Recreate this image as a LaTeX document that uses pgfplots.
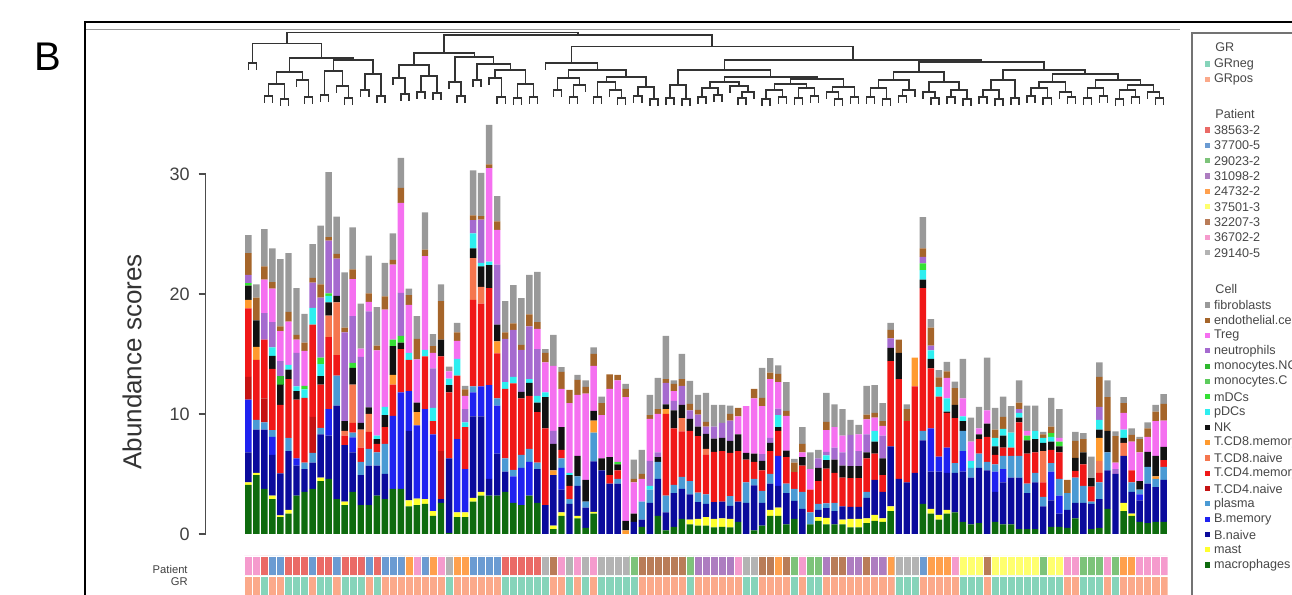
\documentclass[border=0pt]{standalone}
\usepackage{pgfplots}
\pgfplotsset{compat=1.18}
\usepackage{pgfplotstable}
\usepackage{fontspec}
\setmainfont{Liberation Sans}
% cell colours
\definecolor{cMac}{HTML}{0E6B0E}
\definecolor{cMast}{HTML}{FFFF2E}
\definecolor{cBn}{HTML}{0B0B9C}
\definecolor{cBm}{HTML}{1F22F0}
\definecolor{cPl}{HTML}{4A9AD4}
\definecolor{cCDfn}{HTML}{C51313}
\definecolor{cCDfm}{HTML}{F01818}
\definecolor{cCDen}{HTML}{F5764E}
\definecolor{cCDem}{HTML}{FF9A2E}
\definecolor{cNK}{HTML}{111111}
\definecolor{cPdc}{HTML}{2EEEF0}
\definecolor{cMdc}{HTML}{35E035}
\definecolor{cMoC}{HTML}{5CCB5C}
\definecolor{cMoN}{HTML}{2EB82E}
\definecolor{cNeu}{HTML}{A56ACF}
\definecolor{cTreg}{HTML}{F570F0}
\definecolor{cEndo}{HTML}{A5652A}
\definecolor{cFib}{HTML}{999999}
% patient colours
\definecolor{pRed}{HTML}{EA6A66}
\definecolor{pBlue}{HTML}{6B9BD2}
\definecolor{pGreen}{HTML}{7DC37A}
\definecolor{pPurple}{HTML}{AD7DC0}
\definecolor{pOrange}{HTML}{FFA04D}
\definecolor{pYellow}{HTML}{FFFF6E}
\definecolor{pBrown}{HTML}{B97C58}
\definecolor{pPink}{HTML}{F59BCD}
\definecolor{pGray}{HTML}{B3B3B3}
\definecolor{gNeg}{HTML}{86D4BA}
\definecolor{gPos}{HTML}{FBA98A}

\pgfplotstableread{
i mac mast bn bm pl cdfn cdfm cden cdem nk pdc mdc monoc monon neu treg endo fib
0 4.1 0.2 2.5 4.4 0 1.9 5.7 0 0.7 1.2 0 0.2 0 0 0.7 0 1.8 1.5
1 4.9 0.2 3.6 0 0.8 0 5.0 0 1.1 2.2 0 0 0 0 0 0 1.9 1.1
2 3.75 0 4.95 0 0.6 2.0 4.9 0 0 0 0 0 0 0 2.2 2.8 1.1 3.1
3 2.9 0.3 3.4 1.5 0.55 0 5.1 0 0 1.1 0.7 0 0 0 2.1 2.8 0.55 2.8
4 1.4 0.15 3.5 0 0 0 5.7 0 0 1.7 0 0 0 0.7 1.25 2.5 0.4 5.6
5 1.7 0.3 4.9 0 1.1 0 4.9 0 0 0.8 0.4 0 0 0 0 3.6 0.8 4.9
6 3.2 0 2.5 0.6 0 0 4.9 0 0 0.7 0.4 0 0 0 2.8 1.1 0.4 3.9
7 3.5 0 1.9 0 0.55 0 5.4 0 0 0 0.7 0.3 0 0 0 2.9 0.7 2.4
8 3.75 0 2.2 0 0.8 3.0 7.7 0 0 0 1.4 0 0 0 2.1 0 0.4 2.8
9 4.4 0.3 3.6 0 0.55 0 3.6 0 0 0.7 1.0 0.55 0 0 5.0 0 1.1 4.9
10 4.6 0 3.6 2.2 0 0 6.0 1.8 0 1.1 0.55 0.2 0 0 4.4 0 0.3 5.4
11 2.9 0 7.8 0 2.5 0 1.7 4.4 0 0.55 0 0 0 0 3.1 0 0.4 3.1
12 2.4 0.3 4.7 0 0 0 0.8 0.4 0 0.8 0 0 0 0 7.4 0 0.4 4.6
13 3.5 0 3.3 1.25 0.4 0 0.8 3.2 0 1.4 0 0.4 0 0 3.9 3.1 0.8 3.5
14 2.4 0 2.5 0 1.1 0 1.2 1.5 0 0.55 0 0 0 0 5.5 0.7 0 3.75
15 2.4 0 3.3 0 1.4 0 1.4 1.5 0 0.55 0 0 0 0 8.0 0.8 0.7 3.15
16 3.2 0 2.5 0 1.1 0 0.7 0 0 0.4 0.3 0 0 0 0 7.1 0.4 3.2
17 2.9 0 2.1 0 2.5 0 1.4 0 0 1.0 0.7 0 0 0 0 8.1 1.1 2.8
18 3.75 0 0 6.1 0 0 2.6 0 0.8 2.4 0 0.55 0 0 0 6.25 0.4 2.2
19 3.75 0 0 8.05 0 0 3.6 0 0 0.55 0 0.55 0 0 3.6 7.5 1.25 2.5
20 2.3 0.5 5.8 3.3 0 0 2.6 0 0 0 0.6 0 0 0 0 4.0 0.8 0.55
21 2.4 0.55 0 6.1 0 0 0 0 1.1 0.8 0 0 0 0 0 3.6 1.7 1.9
22 2.5 0.4 0 7.5 0 0 4.4 0 0 0 0.55 0 0 0 0 7.8 0.55 3.1
23 1.5 0.4 0 6.4 0 0 1.1 0 0 0 1.1 0 0 0 3.3 1.3 0.55 1.0
24 2.6 0 0.3 0 0 4.0 7.9 0 0 1.4 0 0 0 0 0 0 3.2 1.4
25 0.1 0 6.2 0 0 0 5.5 0 0 0.6 0.55 0 0 0 0 0.6 0 0.4
26 1.4 0.4 0 6.1 0 0 5.3 0 0 0 1.4 0 0 0 0 1.5 0.7 0.8
27 1.4 0.4 0 3.6 0 0 3.5 0 0 0 0.4 0 0 0 1.1 1.1 0.55 0.3
28 2.7 0.3 6.8 2.0 0.5 0 7.2 3.5 0 0.8 1.25 0 0 0 1.1 0 0.4 3.75
29 3.2 0.3 6.3 2.5 0 0 6.9 1.4 0 1.7 0.3 0 0 0 3.6 0 0.3 3.6
30 3.2 0 1.4 7.8 0 0 8.1 0 0 1.9 0.3 0 0 0 0 7.8 0.3 3.3
31 3.2 0 3.5 4.0 0.6 0 3.75 0 1.0 1.4 0 0 0 0 5.0 2.9 0.7 2.1
32 3.5 0 1.7 0 1.1 0 5.8 0 0 0 0.55 0 0 0 3.6 0 0.55 2.6
33 2.6 0 0 2.2 0.55 0 7.2 0 0 0 0.55 0 0 0 3.9 0 0.55 3.2
34 2.4 0 0 3.1 1.1 0 4.7 0 0 0.55 0 0 0 0 3.5 0 0.4 3.9
35 3.2 0 0 2.8 1.1 0 4.4 0 0 1.1 0.3 0 0 0 4.4 0 1.0 3.3
36 2.6 0 2.8 0 0.55 0 4.2 0 0 0.8 0.55 0 0 0 3.9 1.7 0.55 4.2
37 0 0 2.4 0 0 0 6.4 0 0 2.6 0.4 0 0 0 0 2.5 0.8 0.3
38 0.4 0.3 4.2 0 0 0 0 0 0.4 2.2 0 0 0 0 1.1 5.4 0 2.6
39 1.5 0.3 1.9 1.8 0.8 0 0.7 0 0 1.9 0 0 0 0 0 3.2 1.4 0.4
40 0 0 2.5 0 0.4 0 1.1 0 0 0.9 0.2 0 0 0 0 5.8 1.1 0
41 1.3 0.2 2.5 0 0.8 0 0 0 0 1.7 0 0 0 0 0 5.1 1.25 0.4
42 0.5 0 1.7 0 0.5 0 0 0 0 1.8 0 0 0 0 0 7.2 0.55 0.55
43 1.7 0.15 4.2 0 2.4 0 0 0 1.0 0.8 0 0 0 0 0 3.75 1.0 0.55
44 0 0 5.3 0 0 0 0 0 0 1.0 0 0 0 0 0 3.6 1.0 0.55
45 0 0 4.2 0 0 0 0.7 0 0 1.5 0 0 0 0 0 5.7 1.2 0
46 0 0 4.2 0 0.4 0 0.7 0 0 0.5 0 0.2 0 0 0 6.8 0.45 0
47 0 0 0 0 0 0 0 0 0.3 0.8 0 0 0 0 0 10.3 0.7 0.4
48 0 0 1.0 0 0 0 0 0 0 0.7 0 0 0 0 0 2.6 0.3 1.6
49 0.6 0 0.6 0 1.5 0 0 0 0 0 0 0 0 0 0 1.9 0.4 2.0
50 0 0 2.6 0 1.1 0 0 0 0 0 0.3 0 0 0 2.1 3.5 0.3 1.7
51 1.5 0 3.1 0 1.4 0 0 0 0 0.4 0 0 0 0 0.4 3.2 0.4 2.6
52 0.3 0 1.5 0 1.4 0 6.8 0 0.4 0.4 0 0 0 0 1.8 0 0.3 3.6
53 0.6 0 2.8 0 0.7 0 4.7 0 0 1.5 0 0 0 0 0.8 0.8 0.6 0.3
54 1.25 0 2.5 0 1.0 0 3.8 1.1 0 1.1 0 0 0 0 1.6 0 0.55 2.1
55 0.8 0.4 2.1 0 1.1 0 4.2 0 0 1.0 0 0 0 0 0.7 0 0.55 1.9
56 0.7 0.55 1.4 0 0.8 0 4.7 0 0 0.8 0 0 0 0 1.0 0 0.4 1.25
57 0.7 0.7 1.1 0 0.8 0 3.3 0.5 0 1.25 0 0 0 0 0.6 0 0.4 2.4
58 0.55 0.7 1.4 0 0 0 4.2 0 0 1.1 0 0 0 0 1.0 0 0 1.8
59 0.6 0.7 1.4 0 0 0 4.2 0 0 1.1 0 0 0 0 1.25 0 0 1.5
60 0.55 0.7 1.1 0 0.8 0 3.6 0 0 1.0 0 0 0 0 1.7 0 0.55 0.7
61 1.0 0 1.7 0 0 0 4.2 0 0 1.4 0 0 0 0 0 1.5 0.7 0
62 0 0 2.6 0 1.7 0 1.9 0 0 0.55 0 0 0 0 0 3.9 0 0
63 0.3 0 3.75 0 0.55 0 1.4 0 0 0.7 0 0 0 0 0 4.6 0.8 0
64 0.7 0 1.9 0 1.0 0 1.7 0 0 0.8 0 0 0 0 0.55 4.0 0.7 2.5
65 1.5 0.5 2.2 0 0.8 0 1.9 0 0 0.7 0 0 0 0 0.4 4.9 0.55 1.2
66 1.5 0.7 1.8 2.5 0 0 2.1 0 0 0.3 1.0 0 0 0 0.55 2.2 0.7 0.7
67 0.8 0 2.6 0 0.8 0 2.2 0 0 0.55 0 0 0 0 0 2.9 0.4 2.4
68 1.25 0 1.5 0 1.0 0 1.4 0 0 0 0 0 0 0 0 0 0.8 0.3
69 0 0 2.1 0 1.4 0 2.2 0 0 0.7 0 0 0 0 0 0.4 0.7 1.4
70 0.8 0 0 0 1.0 0 1.9 0 0 0 0 0 0 0 0 1.7 0 1.4
71 1.1 0.3 0.6 0 0.5 0 1.9 0 0 1.1 0 0 0 0 0.8 0 0 0.7
72 0.8 0.55 0.8 0 0.4 0 2.9 0 0 0.7 0.4 0 0 0 0.3 1.8 0.7 2.4
73 0.8 0 1.1 0 0.7 0 2.5 0 0 1.1 0 0 0 0 1.0 1.7 0 1.9
74 0.8 0.4 1.1 0 0 0 2.4 0 0 1.0 0 0 0 0 1.1 1.4 0 2.2
75 0.55 0.7 1.0 0 0 0 2.4 0 0 1.0 0 0 0 0 2.6 0 0 1.25
76 0.55 0.7 1.0 0 0 0 2.4 0 0 1.0 0 0 0 0 1.25 1.4 0 0.8
77 0.9 0.4 1.7 0 0.5 0 2.8 0 0 0.5 0 0 0 0 1.5 1.25 0.4 2.4
78 1.1 0.5 2.9 0 0 0 2.2 0 0 1.0 0.9 0 0 0 0 1.1 0.4 2.3
79 1.0 0.3 2.2 0 0 0 1.4 0 0 1.4 0 0 0 0 1.9 0.8 0.4 1.5
80 1.9 0.4 5.0 0 0 0 7.1 0 0 1.1 0 0 0 0 0.8 0 0.7 0.6
81 0 0 4.6 0 0 0 8.3 0 0 2.2 0 0 0 0 0 0 1.1 0
82 0 0 4.3 0 0 0 5.1 0 0 0 0 0 0 0 0 0 1.0 0.4
83 0 0 5.1 0 0 0 7.2 0 2.4 0 0 0 0 0 0 0 0 0
84 2.5 0 5.3 0 0.8 0 11.9 0 0 0.7 0.8 0.55 0 0 0.55 0 0.7 2.6
85 1.7 0.4 3.1 3.6 0 0 5.0 0 0 0.8 0.7 0 0 0 0.4 0 1.5 0.7
86 1.2 0.4 3.6 1.25 0 0 5.0 0 0 0 0.8 0 0 0 0 0 0.8 0.6
87 1.7 0.3 3.1 2.1 0 0 2.9 0 0 0.1 1.1 0 0 0 0 1.7 0.55 0.8
88 1.8 0 3.3 0 0.8 0 3.75 0 0 1.1 0 0 0 0 0 0 1.4 0.55
89 1.0 0 4.2 1.7 1.7 0 0 0 0 0.8 0.4 0 0 0 0 1.5 0 3.3
90 0.8 0 3.9 0 0.8 0 0 0 0 0 0.6 0 0 0 0 1.6 0 2.0
91 0.9 0 4.6 0 1.2 0 1.2 0 0 0.4 0 0 0 0 0 0.5 0 1.8
92 0 0 5.3 0 0.7 0 2.1 0 0 1.1 0 0 0 0 0 1.1 0 4.4
93 1.0 0 2.5 1.7 0.6 0 0.8 0 0 0.7 0.7 0 0 0 0 0 0.7 1.8
94 0.8 0 3.5 1.1 1.1 0 0.7 0 0 1.0 0.55 0 0 0 0 0 1.0 1.7
95 0.8 0 3.9 0 1.8 0 0.7 0 0 0 1.25 0 0 0 0 0 0 2.2
96 0.4 0 4.3 0 1.8 0 2.8 0 0 0.4 0.4 0 0 0 0.3 0 0.55 1.85
97 0.4 0 3.0 0 0.8 0 2.5 0 0 1.1 0 0.4 0 0 0 0.4 0 2.1
98 0.4 0 3.9 0 0.8 0 1.7 0 0 1.1 0.7 0 0 0 0 0 0 2.1
99 0 0 2.3 0 0.8 0 1.2 2.6 0 0.7 0.4 0 0 0 0 0 0.3 0.2
100 0.6 0 2.2 2.4 0.7 0 1.1 0 0 0.7 0.4 0.3 0 0 0 0 0.55 2.4
101 0.6 0 1.1 1.5 1.4 0 2.2 0 0 0.5 0 0.4 0 0 0 0.3 0 2.4
102 0.5 0 1.5 0 1.4 0 0 0 0 0 0 0 0 0 0 0 1.1 0
103 1.3 0 1.3 0 2.1 0 0.55 0 0 1.1 0 0 0 0 0 0 1.4 0.75
104 0 0 2.6 0 1.4 0 1.8 0 0 1.0 0 0 0 0 0 0 1.1 0.5
105 0.4 0 2.1 0 0.2 0 1.25 0 0 0.7 0 0 0 0 0 0 0 1.8
106 0.5 0 2.4 0 1.4 0 0.8 1.0 1.9 0.7 0.8 0 0 0 1.1 0 2.5 1.2
107 2.1 0 3.2 0 1.5 0 0 0 0 1.8 0 0 0 0 0 0 2.8 1.4
108 0 0 5.0 0 0 0 0 0 0 0 0 0 0 0 0.4 0.55 2.2 0.4
109 1.9 0.7 3.9 0 0 0 0 1.1 0 0.4 0.7 0 0 0 0 1.4 0.8 0.5
110 1.5 0.2 1.8 0 0.8 0 1.0 0 0 0 0 0 0 0 0 2.4 0.55 0.55
111 1.0 0 1.8 0.5 0.4 0 0 0 0 0.7 0 0 0 0 0 2.4 1.1 0.2
112 0.9 0 3.3 0 1.4 0 0 0 0 1.25 0 0 0 0 0 1.25 0.7 0.5
113 1.0 0 2.9 0 0.7 0 0 0 0.2 1.7 0 0 0 0 0 2.9 0.8 0.55
114 1.0 0 3.5 0 1.1 0 0.55 0 0 1.1 0 0 0 0 0 2.2 1.4 0.8
}\cells

\pgfplotsset{dendro/.style={black!80, line width=0.75pt, mark=none},
  strip/.style={ybar, bar width=1, bar shift=0pt, draw=white, line width=0.15pt}}
\newcommand{\dd}[5]{\addplot[dendro] coordinates {(#1,#2) (#1,#5) (#3,#5) (#3,#4)};}
\newcommand{\lgfont}{\fontsize{6.3}{6.5}\selectfont}
\newcommand{\lgitem}[3]{\fill[#1] (602.6pt,#2-1.3pt) rectangle ++(2.6pt,2.6pt);
  \node[anchor=west,inner sep=0pt,font=\lgfont,text=black!72] at (606.8pt,#2) {#3};}
\newcommand{\lghead}[2]{\node[anchor=west,inner sep=0pt,font=\lgfont,text=black!72] at (607.5pt,#1) {#2};}

\begin{document}
\begin{tikzpicture}
\useasboundingbox (0,0) rectangle (646pt,297.5pt);

% frame lines
\draw[black, line width=1pt] (42.5pt,286.25pt) -- (646pt,286.25pt);
\draw[black!40, line width=0.5pt] (42.5pt,282.85pt) -- (590pt,282.85pt);
\draw[black, line width=1pt] (42.5pt,286.75pt) -- (42.5pt,-2pt);
\node[font=\fontsize{20}{20}\selectfont] at (24pt,269pt) {B};

% main stacked bars
\begin{axis}[
  at={(102.8pt,30.5pt)}, anchor=south west, scale only axis,
  width=481.05pt, height=180pt,
  xmin=-5.32, xmax=114.5, ymin=0, ymax=30,
  clip=false,
  ybar stacked, bar width=0.8,
  axis x line=none, axis y line=left,
  y axis line style={-, black!70, line width=0.6pt},
  ytick={0,10,20,30}, tick align=outside, major tick length=3.5pt,
  ytick style={black!70, line width=0.6pt},
  yticklabel style={font=\fontsize{9}{9}\selectfont, text=black!75, xshift=-1pt},
  /pgf/number format/assume math mode=true,
]
\addplot[fill=cMac, draw=none] table[x=i, y=mac]{\cells};
\addplot[fill=cMast, draw=none] table[x=i, y=mast]{\cells};
\addplot[fill=cBn, draw=none] table[x=i, y=bn]{\cells};
\addplot[fill=cBm, draw=none] table[x=i, y=bm]{\cells};
\addplot[fill=cPl, draw=none] table[x=i, y=pl]{\cells};
\addplot[fill=cCDfn, draw=none] table[x=i, y=cdfn]{\cells};
\addplot[fill=cCDfm, draw=none] table[x=i, y=cdfm]{\cells};
\addplot[fill=cCDen, draw=none] table[x=i, y=cden]{\cells};
\addplot[fill=cCDem, draw=none] table[x=i, y=cdem]{\cells};
\addplot[fill=cNK, draw=none] table[x=i, y=nk]{\cells};
\addplot[fill=cPdc, draw=none] table[x=i, y=pdc]{\cells};
\addplot[fill=cMdc, draw=none] table[x=i, y=mdc]{\cells};
\addplot[fill=cMoC, draw=none] table[x=i, y=monoc]{\cells};
\addplot[fill=cMoN, draw=none] table[x=i, y=monon]{\cells};
\addplot[fill=cNeu, draw=none] table[x=i, y=neu]{\cells};
\addplot[fill=cTreg, draw=none] table[x=i, y=treg]{\cells};
\addplot[fill=cEndo, draw=none] table[x=i, y=endo]{\cells};
\addplot[fill=cFib, draw=none] table[x=i, y=fib]{\cells};
\end{axis}

% dendrogram
\begin{axis}[
  at={(343.325pt,262.5pt)}, anchor=center, scale only axis,
  width=481.05pt, height=42pt,
  xmin=-5.32, xmax=114.5, ymin=28, ymax=112, y dir=reverse,
  hide axis, clip=false,
]
\dd{0}{70}{1}{70}{63}
\dd{2}{103}{3}{103}{96}
\dd{4}{106}{5}{106}{99}
\dd{2.5}{96}{4.5}{99}{84}
\dd{7}{104}{8}{104}{97}
\dd{6}{87}{7.5}{97}{80}
\dd{3.5}{84}{6.75}{80}{72}
\dd{9}{102}{10}{102}{95}
\dd{12}{105}{13}{105}{98}
\dd{11}{93}{12.5}{98}{86}
\dd{9.5}{95}{11.75}{86}{71}
\dd{14}{97}{15}{97}{90}
\dd{16}{103}{17}{103}{96}
\dd{14.5}{90}{16.5}{96}{74}
\dd{10.625}{71}{15.5}{74}{60}
\dd{5.125}{72}{13.0625}{60}{58}
\dd{0.5}{63}{9.09}{58}{43.3}
\dd{19}{101}{20}{101}{94}
\dd{18}{85}{19.5}{94}{78}
\dd{21}{99}{22}{99}{92}
\dd{23}{100}{24}{100}{93}
\dd{21.5}{92}{23.5}{93}{76}
\dd{18.75}{78}{22.5}{76}{65}
\dd{26}{103}{27}{103}{96}
\dd{25}{89}{26.5}{96}{82}
\dd{28}{87}{29}{87}{80}
\dd{31}{104}{32}{104}{97}
\dd{30}{85}{31.5}{97}{78}
\dd{33}{105}{34}{105}{98}
\dd{35}{104}{36}{104}{97}
\dd{33.5}{98}{35.5}{97}{84}
\dd{30.75}{78}{34.5}{84}{70}
\dd{28.5}{80}{32.625}{70}{64}
\dd{25.75}{82}{30.5625}{64}{57}
\dd{20.625}{65}{28.156}{57}{53}
\dd{38}{97}{39}{97}{90}
\dd{40}{104}{41}{104}{97}
\dd{40.5}{97}{42}{92}{85}
\dd{38.5}{90}{41.25}{85}{78}
\dd{43}{104}{44}{104}{97}
\dd{46}{105}{47}{105}{98}
\dd{45}{97}{46.5}{98}{90}
\dd{43.5}{97}{45.75}{90}{82}
\dd{48}{103}{49}{103}{96}
\dd{50}{106}{51}{106}{99}
\dd{48.5}{96}{50.5}{99}{87}
\dd{44.625}{82}{49.5}{87}{77}
\dd{39.875}{78}{47.0625}{77}{70}
\dd{37}{70}{43.47}{70}{63}
\dd{52}{105}{53}{105}{98}
\dd{54}{106}{55}{106}{99}
\dd{52.5}{98}{54.5}{99}{85}
\dd{56}{104}{57}{104}{97}
\dd{58}{102}{59}{102}{95}
\dd{56.5}{97}{58.5}{95}{88}
\dd{61}{105}{62}{105}{98}
\dd{61.5}{98}{63}{99}{92}
\dd{60}{93}{62.25}{92}{86}
\dd{57.5}{88}{61.125}{86}{82}
\dd{64}{106}{65}{106}{99}
\dd{66}{104}{67}{104}{97}
\dd{64.5}{99}{66.5}{97}{90}
\dd{68}{105}{69}{105}{98}
\dd{70}{103}{71}{103}{96}
\dd{68.5}{98}{70.5}{96}{88}
\dd{65.5}{90}{69.5}{88}{84}
\dd{73}{106}{74}{106}{99}
\dd{72}{99}{73.5}{99}{92}
\dd{75}{104}{76}{104}{97}
\dd{72.75}{92}{75.5}{97}{87}
\dd{67.5}{84}{74.125}{87}{79}
\dd{59.3125}{82}{70.8125}{79}{77}
\dd{53.5}{85}{65.06}{77}{70}
\dd{77}{104}{78}{104}{97}
\dd{79}{106}{80}{106}{99}
\dd{77.5}{97}{79.5}{99}{88}
\dd{81}{103}{82}{103}{96}
\dd{81.5}{96}{83}{97}{90}
\dd{78.5}{88}{82.25}{90}{80}
\dd{85}{105}{86}{105}{98}
\dd{84}{99}{85.5}{98}{92}
\dd{87}{104}{88}{104}{97}
\dd{89}{106}{90}{106}{99}
\dd{87.5}{97}{89.5}{99}{90}
\dd{84.75}{92}{88.5}{90}{82}
\dd{80.375}{80}{86.625}{82}{72}
\dd{91}{104}{92}{104}{97}
\dd{93}{106}{94}{106}{99}
\dd{91.5}{97}{93.5}{99}{90}
\dd{95}{105}{96}{105}{98}
\dd{92.5}{90}{95.5}{98}{80}
\dd{97}{103}{98}{103}{96}
\dd{99}{105}{100}{105}{98}
\dd{97.5}{96}{99.5}{98}{88}
\dd{102}{104}{103}{104}{97}
\dd{101}{99}{102.5}{97}{92}
\dd{98.5}{88}{101.75}{92}{82}
\dd{104}{105}{105}{105}{98}
\dd{106}{103}{107}{103}{96}
\dd{104.5}{98}{106.5}{96}{88}
\dd{108}{106}{109}{106}{99}
\dd{110}{104}{111}{104}{97}
\dd{108.5}{99}{110.5}{97}{90}
\dd{113}{105}{114}{105}{98}
\dd{112}{99}{113.5}{98}{92}
\dd{109.5}{90}{112.75}{92}{85}
\dd{105.5}{88}{111.125}{85}{80}
\dd{100.125}{82}{108.3125}{80}{74}
\dd{94}{80}{104.22}{74}{70}
\dd{83.5}{72}{99.11}{70}{62}
\dd{59.28}{70}{91.3}{62}{60}
\dd{40.23}{63}{75.29}{60}{46.7}
\dd{24.39}{53}{57.76}{46.7}{35}
\dd{4.8}{43.3}{41.07}{35}{32.7}
\end{axis}

% Patient strip
\begin{axis}[
  at={(343.325pt,14.75pt)}, anchor=center, scale only axis,
  width=481.05pt, height=9.5pt,
  xmin=-5.32, xmax=114.5, ymin=0, ymax=1, hide axis, clip=false,
]
\addplot[strip, fill=pPink] coordinates {(0,1) (1,1) (21,1) (24,1) (39,1) (41,1) (43,1) (61,1) (69,1) (88,1) (102,1) (103,1) (107,1) (111,1) (112,1) (113,1) (114,1)};
\addplot[strip, fill=pRed] coordinates {(2,1) (5,1) (6,1) (7,1) (9,1) (10,1) (12,1) (13,1) (14,1) (16,1) (32,1) (33,1) (34,1) (35,1) (36,1)};
\addplot[strip, fill=pBlue] coordinates {(3,1) (4,1) (8,1) (11,1) (15,1) (17,1) (18,1) (19,1) (22,1) (28,1) (29,1) (30,1) (31,1) (84,1)};
\addplot[strip, fill=pOrange] coordinates {(20,1) (23,1) (26,1) (27,1) (66,1) (80,1) (85,1) (86,1) (87,1) (109,1) (110,1)};
\addplot[strip, fill=pGray] coordinates {(25,1) (37,1) (40,1) (42,1) (44,1) (45,1) (46,1) (47,1) (62,1) (63,1) (81,1) (82,1) (83,1)};
\addplot[strip, fill=pBrown] coordinates {(38,1) (49,1) (50,1) (51,1) (52,1) (53,1) (54,1) (64,1) (65,1) (67,1) (73,1) (74,1) (77,1) (92,1)};
\addplot[strip, fill=pGreen] coordinates {(48,1) (55,1) (68,1) (70,1) (71,1) (99,1) (104,1) (105,1) (106,1) (108,1)};
\addplot[strip, fill=pPurple] coordinates {(56,1) (57,1) (58,1) (59,1) (60,1) (72,1) (75,1) (76,1) (78,1) (79,1)};
\addplot[strip, fill=pYellow] coordinates {(89,1) (90,1) (91,1) (93,1) (94,1) (95,1) (96,1) (97,1) (98,1) (100,1) (101,1)};
\end{axis}

% GR strip
\begin{axis}[
  at={(343.325pt,4.5pt)}, anchor=center, scale only axis,
  width=481.05pt, height=10pt,
  xmin=-5.32, xmax=114.5, ymin=0, ymax=1, hide axis, clip=false,
]
\addplot[strip, fill=gNeg] coordinates {(2,1) (5,1) (6,1) (7,1) (9,1) (10,1) (12,1) (13,1) (14,1) (16,1) (32,1) (33,1) (34,1) (35,1) (36,1) (25,1) (37,1) (40,1) (42,1) (44,1) (45,1) (46,1) (47,1) (62,1) (63,1) (81,1) (82,1) (83,1) (48,1) (55,1) (68,1) (70,1) (71,1) (99,1) (104,1) (105,1) (106,1) (108,1) (89,1) (90,1) (91,1) (93,1) (94,1) (95,1) (96,1) (97,1) (98,1) (100,1) (101,1)};
\addplot[strip, fill=gPos] coordinates {(0,1) (1,1) (21,1) (24,1) (39,1) (41,1) (43,1) (61,1) (69,1) (88,1) (102,1) (103,1) (107,1) (111,1) (112,1) (113,1) (114,1) (3,1) (4,1) (8,1) (11,1) (15,1) (17,1) (18,1) (19,1) (22,1) (28,1) (29,1) (30,1) (31,1) (84,1) (20,1) (23,1) (26,1) (27,1) (66,1) (80,1) (85,1) (86,1) (87,1) (109,1) (110,1) (38,1) (49,1) (50,1) (51,1) (52,1) (53,1) (54,1) (64,1) (65,1) (67,1) (73,1) (74,1) (77,1) (92,1) (56,1) (57,1) (58,1) (59,1) (60,1) (72,1) (75,1) (76,1) (78,1) (79,1)};
\end{axis}

% labels
\node[rotate=90, font=\fontsize{13}{13}\selectfont, text=black!80] at (66pt,116.5pt) {Abundance scores};
\node[anchor=east, inner sep=0pt, font=\fontsize{5.6}{6}\selectfont, text=black!75] at (94pt,13pt) {Patient};
\node[anchor=east, inner sep=0pt, font=\fontsize{5.6}{6}\selectfont, text=black!75] at (94pt,6.5pt) {GR};

% legend
\draw[black!55, line width=0.8pt] (596pt,281pt) rectangle (660pt,-5pt);
\lghead{274pt}{GR}
\lgitem{gNeg}{265.5pt}{GRneg}
\lgitem{gPos}{257.85pt}{GRpos}
\lghead{240.5pt}{Patient}
\lgitem{pRed}{232.5pt}{38563-2}
\lgitem{pBlue}{224.8pt}{37700-5}
\lgitem{pGreen}{217.15pt}{29023-2}
\lgitem{pPurple}{209.5pt}{31098-2}
\lgitem{pOrange}{201.8pt}{24732-2}
\lgitem{pYellow}{194.1pt}{37501-3}
\lgitem{pBrown}{186.45pt}{32207-3}
\lgitem{pPink}{178.8pt}{36702-2}
\lgitem{pGray}{171.1pt}{29140-5}
\lghead{153pt}{Cell}
\lgitem{cFib}{145pt}{fibroblasts}
\lgitem{cEndo}{137.35pt}{endothelial.cells}
\lgitem{cTreg}{129.7pt}{Treg}
\lgitem{cNeu}{122.05pt}{neutrophils}
\lgitem{cMoN}{114.4pt}{monocytes.NC}
\lgitem{cMoC}{106.75pt}{monocytes.C}
\lgitem{cMdc}{99.1pt}{mDCs}
\lgitem{cPdc}{91.45pt}{pDCs}
\lgitem{cNK}{83.8pt}{NK}
\lgitem{cCDem}{76.15pt}{T.CD8.memory}
\lgitem{cCDen}{68.5pt}{T.CD8.naive}
\lgitem{cCDfm}{60.85pt}{T.CD4.memory}
\lgitem{cCDfn}{53.2pt}{T.CD4.naive}
\lgitem{cPl}{45.55pt}{plasma}
\lgitem{cBm}{37.9pt}{B.memory}
\lgitem{cBn}{30.25pt}{B.naive}
\lgitem{cMast}{22.6pt}{mast}
\lgitem{cMac}{14.95pt}{macrophages}
\end{tikzpicture}
\end{document}
